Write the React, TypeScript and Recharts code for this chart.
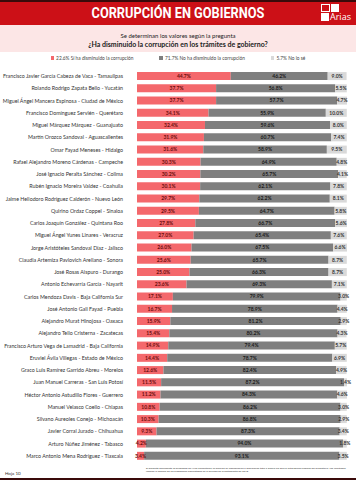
import { BarChart, Bar, XAxis, YAxis, LabelList } from "recharts";

const governors = [
  "Francisco Javier García Cabeza de Vaca - Tamaulipas",
  "Rolando Rodrigo Zapata Bello - Yucatán",
  "Miguel Ángel Mancera Espinosa - Ciudad de México",
  "Francisco Domínguez Servién - Querétaro",
  "Miguel Márquez Márquez - Guanajuato",
  "Martín Orozco Sandoval - Aguascalientes",
  "Omar Fayad Meneses - Hidalgo",
  "Rafael Alejandro Moreno Cárdenas - Campeche",
  "José Ignacio Peralta Sánchez - Colima",
  "Rubén Ignacio Moreira Valdez - Coahuila",
  "Jaime Heliodoro Rodríguez Calderón - Nuevo León",
  "Quirino Ordaz Coppel - Sinaloa",
  "Carlos Joaquín González - Quintana Roo",
  "Miguel Ángel Yunes Linares - Veracruz",
  "Jorge Aristóteles Sandoval Díaz - Jalisco",
  "Claudia Artemiza Pavlovich Arellano - Sonora",
  "José Rosas Aispuro - Durango",
  "Antonio Echevarría García - Nayarit",
  "Carlos Mendoza Davis - Baja California Sur",
  "José Antonio Gali Fayad - Puebla",
  "Alejandro Murat Hinojosa - Oaxaca",
  "Alejandro Tello Cristerna - Zacatecas",
  "Francisco Arturo Vega de Lamadrid - Baja California",
  "Eruviel Ávila Villegas - Estado de México",
  "Graco Luis Ramírez Garrido Abreu - Morelos",
  "Juan Manuel Carreras - San Luis Potosí",
  "Héctor Antonio Astudillo Flores - Guerrero",
  "Manuel Velasco Coello - Chiapas",
  "Silvano Aureoles Conejo - Michoacán",
  "Javier Corral Jurado - Chihuahua",
  "Arturo Núñez Jiménez - Tabasco",
  "Marco Antonio Mena Rodríguez - Tlaxcala",
];

const siHa = [44.7, 37.7, 37.7, 34.1, 32.4, 31.9, 31.6, 30.3, 30.2, 30.1, 29.7, 29.5, 27.8, 27.0, 26.0, 25.6, 25.0, 23.6, 17.1, 16.7, 15.9, 15.4, 14.9, 14.4, 12.6, 11.5, 11.2, 10.8, 10.3, 9.3, 4.2, 3.4];
const noHa = [46.2, 56.8, 57.7, 55.9, 59.6, 60.7, 58.9, 64.9, 65.7, 62.1, 62.2, 64.7, 66.7, 65.4, 67.5, 65.7, 66.3, 69.3, 79.9, 78.9, 81.2, 80.2, 79.4, 78.7, 82.4, 87.2, 84.3, 86.2, 86.8, 87.3, 94.0, 93.1];
const noSe = [9.0, 5.5, 4.7, 10.0, 8.0, 7.4, 9.5, 4.8, 4.1, 7.8, 8.1, 5.8, 5.6, 7.6, 6.6, 8.7, 8.7, 7.1, 3.0, 4.4, 2.9, 4.3, 5.7, 6.9, 4.9, 1.4, 4.6, 3.0, 2.9, 3.4, 1.8, 3.5];

const legendItems = [
  { label: "22.6% Sí ha disminuido la corrupción", color: "#f4686c" },
  { label: "71.7% No ha disminuido la corrupción", color: "#7f7f7f" },
  { label: "5.7% No lo sé", color: "#d9d9d9" },
];

const data = governors.map((name, i) => ({
  name,
  si: siHa[i],
  no: noHa[i],
  ns: noSe[i],
}));

const pct = (v: number) => `${v.toFixed(1)}%`;
const font = "'Lato', 'Open Sans', sans-serif";

// single-line tick, recharts would wrap the long names otherwise
function NameTick({ x, y, payload }: any) {
  return (
    <text x={x - 6} y={y} dy={2} textAnchor="end" fontSize={5.3} fill="#333" fontFamily={font}>
      {payload.value}
    </text>
  );
}

export default function App() {
  return (
    <div
      style={{
        position: "absolute",
        top: 0,
        left: 0,
        width: 356,
        height: 480,
        background: "#fff",
        overflow: "hidden",
        fontFamily: font,
      }}
    >
      <div style={{ position: "absolute", top: 0, left: 0, width: 356, height: 2, background: "#3a0a0a" }} />
      <div
        style={{
          position: "absolute",
          top: 2,
          left: 0,
          width: 356,
          height: 23,
          background: "#cc1017",
        }}
      >
        <div
          style={{
            color: "#fff",
            textAlign: "center",
            lineHeight: "23px",
            fontFamily: "'Roboto', sans-serif",
            fontWeight: 700,
            fontSize: 14.5,
            transform: "scaleX(0.88)",
          }}
        >
          CORRUPCIÓN EN GOBIERNOS
        </div>
      </div>
      <div style={{ position: "absolute", top: 3, left: 318, width: 36, height: 21, color: "#fff" }}>
        <div style={{ position: "absolute", top: 1, left: 3, width: 9, height: 8, border: "1.5px solid #fff", boxSizing: "border-box" }} />
        <div style={{ position: "absolute", top: 1, left: 13, width: 8, height: 8, background: "#fff" }} />
        <div style={{ position: "absolute", top: 10, left: 3, width: 8, height: 8, background: "#fff" }} />
        <div style={{ position: "absolute", top: 9, left: 12, fontSize: 9, lineHeight: "10px", fontFamily: "'Open Sans', sans-serif" }}>Arias</div>
      </div>
      <div
        style={{
          position: "absolute",
          top: 25,
          left: 0,
          width: 356,
          height: 27,
          background: "#fce6e6",
          textAlign: "center",
          color: "#222",
        }}
      >
        <div style={{ fontSize: 6, marginTop: 7, lineHeight: "8px" }}>Se determinan los valores según la pregunta</div>
        <div style={{ fontSize: 7, fontWeight: 700, lineHeight: "9px" }}>
          ¿Ha disminuido la corrupción en los trámites de gobierno?
        </div>
      </div>
      <div
        style={{
          position: "absolute",
          top: 55,
          left: 0,
          width: 356,
          display: "flex",
          justifyContent: "center",
          gap: 26,
          fontSize: 4.8,
          color: "#444",
        }}
      >
        {legendItems.map((it) => (
          <span key={it.label} style={{ display: "inline-flex", alignItems: "center", gap: 2 }}>
            <span style={{ width: 3.5, height: 3.5, background: it.color, display: "inline-block" }} />
            {it.label}
          </span>
        ))}
      </div>
      <div style={{ position: "absolute", top: 70, left: 0 }}>
        <BarChart
          width={356}
          height={392}
          data={data}
          layout="vertical"
          margin={{ top: 0, right: 9, left: 0, bottom: 0 }}
          barCategoryGap="17%"
        >
          <XAxis type="number" domain={[0, 100]} hide />
          <YAxis
            type="category"
            dataKey="name"
            width={137}
            axisLine={false}
            tickLine={false}
            interval={0}
            tick={<NameTick />}
          />
          <Bar dataKey="si" stackId="a" fill="#f4686c" isAnimationActive={false}>
            <LabelList dataKey="si" position="center" formatter={pct} fontSize={5} fontWeight={700} fill="#6b0d0d" fontFamily={font} />
          </Bar>
          <Bar dataKey="no" stackId="a" fill="#7f7f7f" isAnimationActive={false}>
            <LabelList dataKey="no" position="center" formatter={pct} fontSize={5} fontWeight={700} fill="#1a1a1a" fontFamily={font} />
          </Bar>
          <Bar dataKey="ns" stackId="a" fill="#d9d9d9" isAnimationActive={false}>
            <LabelList dataKey="ns" position="center" formatter={pct} fontSize={5} fontWeight={700} fill="#333" fontFamily={font} />
          </Bar>
        </BarChart>
      </div>
      <div style={{ position: "absolute", top: 471, left: 5, fontSize: 4.5, color: "#333" }}>Hoja 10</div>
      <div
        style={{
          position: "absolute",
          top: 467,
          left: 146,
          width: 205,
          fontSize: 2.6,
          lineHeight: "3.4px",
          color: "#333",
        }}
      >
        El presente documento es propiedad de Arias Consultores, se prohíbe su reproducción o publicación total o parcial sin previa autorización expresa del propietario. Los resultados reflejan la opinión de los ciudadanos encuestados en el periodo de levantamiento de 2018.
      </div>
      <div style={{ position: "absolute", top: 478, left: 0, width: 356, height: 2, background: "#3a0a0a" }} />
    </div>
  );
}
